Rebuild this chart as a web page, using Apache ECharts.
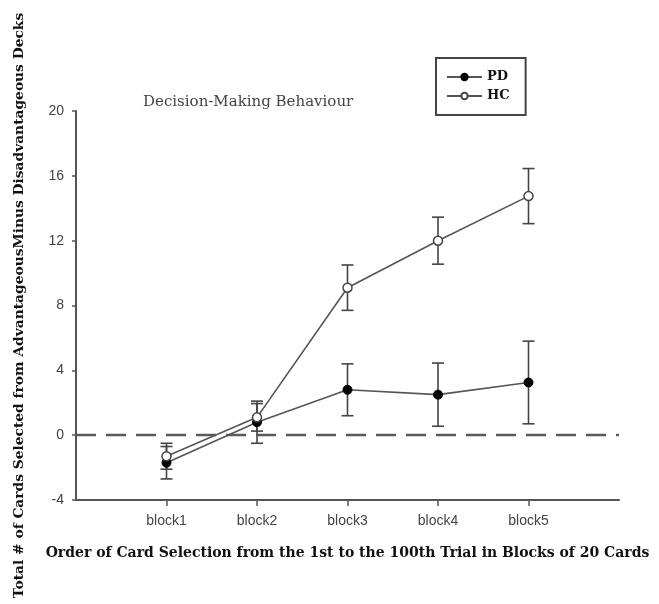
<!DOCTYPE html>
<html>
<head>
<meta charset="utf-8">
<script src="https://cdn.jsdelivr.net/npm/echarts@6/dist/echarts.min.js"></script>
<style>
html, body { margin: 0; padding: 0; background: #fff; }
#chart { width: 659px; height: 604px; }
</style>
</head>
<body>
<div id="chart"></div>
<script>
// data
const blocks = ['block1', 'block2', 'block3', 'block4', 'block5'];
const pdMean = [-1.7, 0.8, 2.8, 2.5, 3.25];
const pdErr = [1.0, 1.3, 1.6, 1.95, 2.55];
const hcMean = [-1.3, 1.1, 9.1, 12.0, 14.75];
const hcErr = [0.8, 0.85, 1.4, 1.45, 1.7];
const yTicks = [-4, 0, 4, 8, 12, 16, 20];

const mychart = echarts.init(document.getElementById('chart'));

// pad the category axis so blocks sit one step in from each end
const xCats = [''].concat(blocks).concat(['']);

function errData(mean, err) {
  return mean.map((m, i) => [i + 1, m - err[i], m + err[i]]);
}

function renderErr(params, api) {
  const x = api.value(0);
  const lo = api.coord([x, api.value(1)]);
  const hi = api.coord([x, api.value(2)]);
  const w = 6;
  const style = { stroke: '#444', lineWidth: 1.6 };
  return {
    type: 'group',
    children: [
      { type: 'line', shape: { x1: hi[0], y1: hi[1], x2: lo[0], y2: lo[1] }, style: style },
      { type: 'line', shape: { x1: hi[0] - w, y1: hi[1], x2: hi[0] + w, y2: hi[1] }, style: style },
      { type: 'line', shape: { x1: lo[0] - w, y1: lo[1], x2: lo[0] + w, y2: lo[1] }, style: style }
    ]
  };
}

const serif = '"DejaVu Serif", "Liberation Serif", serif';
const sans = '"Liberation Sans", Arial, sans-serif';

const option = {
  animation: false,
  backgroundColor: '#fff',
  title: {
    text: 'Decision-Making Behaviour',
    left: 138,
    top: 90,
    textStyle: { fontFamily: serif, fontSize: 15, fontWeight: 'normal', color: '#444' }
  },
  legend: {
    orient: 'vertical',
    left: 436,
    top: 58,
    padding: [12, 16, 12, 10],
    itemGap: 5,
    itemWidth: 35,
    itemHeight: 8,
    borderColor: '#444',
    borderWidth: 2,
    data: ['PD', 'HC'],
    textStyle: { fontFamily: serif, fontSize: 13, lineHeight: 14, fontWeight: 'bold', color: '#111' }
  },
  grid: {
    left: 76,
    top: 111,
    right: 40,
    bottom: 104
  },
  xAxis: {
    type: 'category',
    data: xCats,
    boundaryGap: false,
    name: 'Order of Card Selection from the 1st to the 100th Trial in Blocks of 20 Cards',
    nameLocation: 'middle',
    nameGap: 46,
    nameTextStyle: { fontFamily: serif, fontSize: 14, fontWeight: 'bold', color: '#111' },
    axisLine: { onZero: false, lineStyle: { color: '#555', width: 2 } },
    axisTick: {
      length: 6,
      interval: function (index) { return index > 0 && index < xCats.length - 1; },
      lineStyle: { color: '#555', width: 1.5 }
    },
    axisLabel: { interval: 0, margin: 14, fontFamily: sans, fontSize: 14, color: '#444' },
    splitLine: { show: false }
  },
  yAxis: {
    type: 'value',
    min: yTicks[0],
    max: yTicks[yTicks.length - 1],
    interval: 4,
    name: 'Total # of Cards Selected from AdvantageousMinus Disadvantageous Decks',
    nameLocation: 'middle',
    nameGap: 50,
    nameTextStyle: { fontFamily: serif, fontSize: 13.8, fontWeight: 'bold', color: '#111' },
    axisLine: { show: true, lineStyle: { color: '#555', width: 2 } },
    axisTick: { show: true, length: 4, lineStyle: { color: '#555', width: 1.5 } },
    axisLabel: { margin: 12, fontFamily: sans, fontSize: 14, color: '#444' },
    splitLine: { show: false }
  },
  series: [
    {
      name: 'zero',
      type: 'line',
      data: [],
      silent: true,
      markLine: {
        symbol: 'none',
        silent: true,
        label: { show: false },
        lineStyle: { color: '#5a5a5a', width: 2.4, type: [20, 10] },
        data: [{ yAxis: 0 }]
      }
    },
    {
      name: 'PD err',
      type: 'custom',
      renderItem: renderErr,
      data: errData(pdMean, pdErr),
      z: 3
    },
    {
      name: 'HC err',
      type: 'custom',
      renderItem: renderErr,
      data: errData(hcMean, hcErr),
      z: 3
    },
    {
      name: 'PD',
      type: 'line',
      data: blocks.map((b, i) => [b, pdMean[i]]),
      symbol: 'circle',
      symbolSize: 9,
      lineStyle: { color: '#555', width: 1.6 },
      itemStyle: { color: '#000', borderColor: '#000', borderWidth: 1 },
      z: 5
    },
    {
      name: 'HC',
      type: 'line',
      data: blocks.map((b, i) => [b, hcMean[i]]),
      symbol: 'circle',
      symbolSize: 9,
      lineStyle: { color: '#555', width: 1.6 },
      itemStyle: { color: '#fff', borderColor: '#444', borderWidth: 1.5 },
      z: 6
    }
  ]
};

mychart.setOption(option, true);
</script>
</body>
</html>
